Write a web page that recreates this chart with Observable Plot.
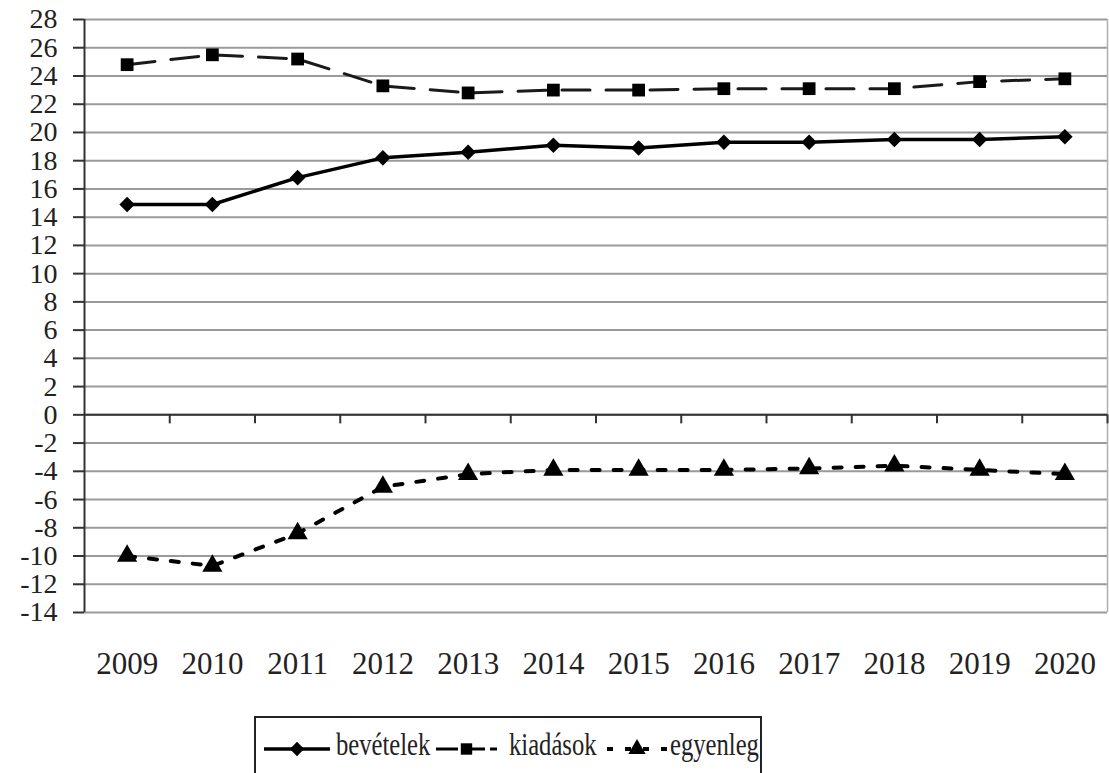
<!DOCTYPE html>
<html>
<head>
<meta charset="utf-8">
<script src="https://cdn.jsdelivr.net/npm/d3@7"></script>
<script src="https://cdn.jsdelivr.net/npm/@observablehq/plot@0.6"></script>
<style>
  html, body { margin: 0; padding: 0; background: #fff; }
  body { width: 1109px; height: 773px; position: relative; overflow: hidden; font-family: "Liberation Serif", "Times New Roman", serif; }
  #legend { position: absolute; left: 254px; top: 716px; width: 508px; height: 70px; border: 2px solid #222; box-sizing: border-box; background: #fff; }
</style>
</head>
<body>
<div id="chart"></div>
<div id="legend"></div>
<script>
const years = [2009, 2010, 2011, 2012, 2013, 2014, 2015, 2016, 2017, 2018, 2019, 2020];
const bevetelek = [14.9, 14.9, 16.8, 18.2, 18.6, 19.1, 18.9, 19.3, 19.3, 19.5, 19.5, 19.7];
const kiadasok  = [24.8, 25.5, 25.2, 23.3, 22.8, 23.0, 23.0, 23.1, 23.1, 23.1, 23.6, 23.8];
const egyenleg  = [-10.0, -10.7, -8.4, -5.1, -4.2, -3.9, -3.9, -3.9, -3.8, -3.6, -3.9, -4.2];
const yTicks = [-14, -12, -10, -8, -6, -4, -2, 0, 2, 4, 6, 8, 10, 12, 14, 16, 18, 20, 22, 24, 26, 28];
const seriesNames = ["bevételek", "kiadások", "egyenleg"];

const rows = (vals) => years.map((year, i) => ({year, value: vals[i]}));
const dB = rows(bevetelek), dK = rows(kiadasok), dE = rows(egyenleg);
const boundaries = years.map(y => y + 0.5);
const serif = "'Liberation Serif', 'Times New Roman', serif";

const chart = Plot.plot({
  width: 1109,
  height: 700,
  marginLeft: 84,
  marginRight: 2,
  marginTop: 19,
  marginBottom: 88,
  style: { fontFamily: serif, background: "#fff", color: "#222" },
  x: { domain: [years[0] - 0.5, years[years.length - 1] + 0.5] },
  y: { domain: [-14, 28] },
  marks: [
    Plot.ruleY(yTicks, { stroke: "#9a9a9a", strokeWidth: 2 }),
    Plot.ruleX([years[years.length - 1] + 0.5], { stroke: "#b0b0b0", strokeWidth: 1.5 }),
    Plot.ruleY([0], { stroke: "#333", strokeWidth: 2 }),
    Plot.ruleX(boundaries, { y1: 0, y2: -0.64, stroke: "#333", strokeWidth: 2 }),
    Plot.ruleX([years[0] - 0.5], { stroke: "#333", strokeWidth: 2 }),
    Plot.axisY({ ticks: yTicks, tickFormat: d => String(d), tickSize: 11, tickPadding: 16, fontSize: 28, fontFamily: serif, stroke: "#333", strokeWidth: 2, label: null, color: "#222" }),
    Plot.axisX({ ticks: years, tickFormat: d => String(d), tickSize: 0, tickPadding: 39, fontSize: 31, fontFamily: serif, label: null, color: "#222" }),
    Plot.line(dK, { x: "year", y: "value", stroke: "#1a1a1a", strokeWidth: 3, strokeDasharray: "28,16" }),
    Plot.dot(dK, { x: "year", y: "value", symbol: "square", r: 7.2, fill: "#000", stroke: null }),
    Plot.line(dB, { x: "year", y: "value", stroke: "#000", strokeWidth: 3.5 }),
    Plot.dot(dB, { x: "year", y: "value", symbol: "diamond2", r: 7, fill: "#000", stroke: null }),
    Plot.line(dE, { x: "year", y: "value", stroke: "#000", strokeWidth: 4, strokeDasharray: "8,14" }),
    Plot.dot(dE, { x: "year", y: "value", symbol: "triangle", r: 7.5, fill: "#000", stroke: null })
  ]
});
document.getElementById("chart").appendChild(chart);

// Legend
const lg = d3.select("#legend").append("svg").attr("width", 504).attr("height", 66)
  .style("font-family", serif);
const items = [
  { name: seriesNames[0], x0: 8, x1: 74, dash: null, sw: 3.5, sym: d3.symbolDiamond2, tx: 80 },
  { name: seriesNames[1], x0: 180, x1: 241, dash: "22,5", sw: 3, sym: d3.symbolSquare, tx: 253 },
  { name: seriesNames[2], x0: 351, x1: 411, dash: "6,12", sw: 4, sym: d3.symbolTriangle, tx: 414 }
];
const cy = 31;
for (const it of items) {
  lg.append("line").attr("x1", it.x0).attr("x2", it.x1).attr("y1", cy).attr("y2", cy)
    .attr("stroke", "#000").attr("stroke-width", it.sw).attr("stroke-dasharray", it.dash);
  lg.append("path").attr("d", d3.symbol(it.sym, 130)())
    .attr("transform", `translate(${(it.x0 + it.x1) / 2},${cy})`).attr("fill", "#000");
  lg.append("text").attr("transform", `translate(${it.tx},37) scale(0.77,1)`)
    .attr("font-size", 32).attr("fill", "#222").text(it.name);
}
</script>
</body>
</html>
